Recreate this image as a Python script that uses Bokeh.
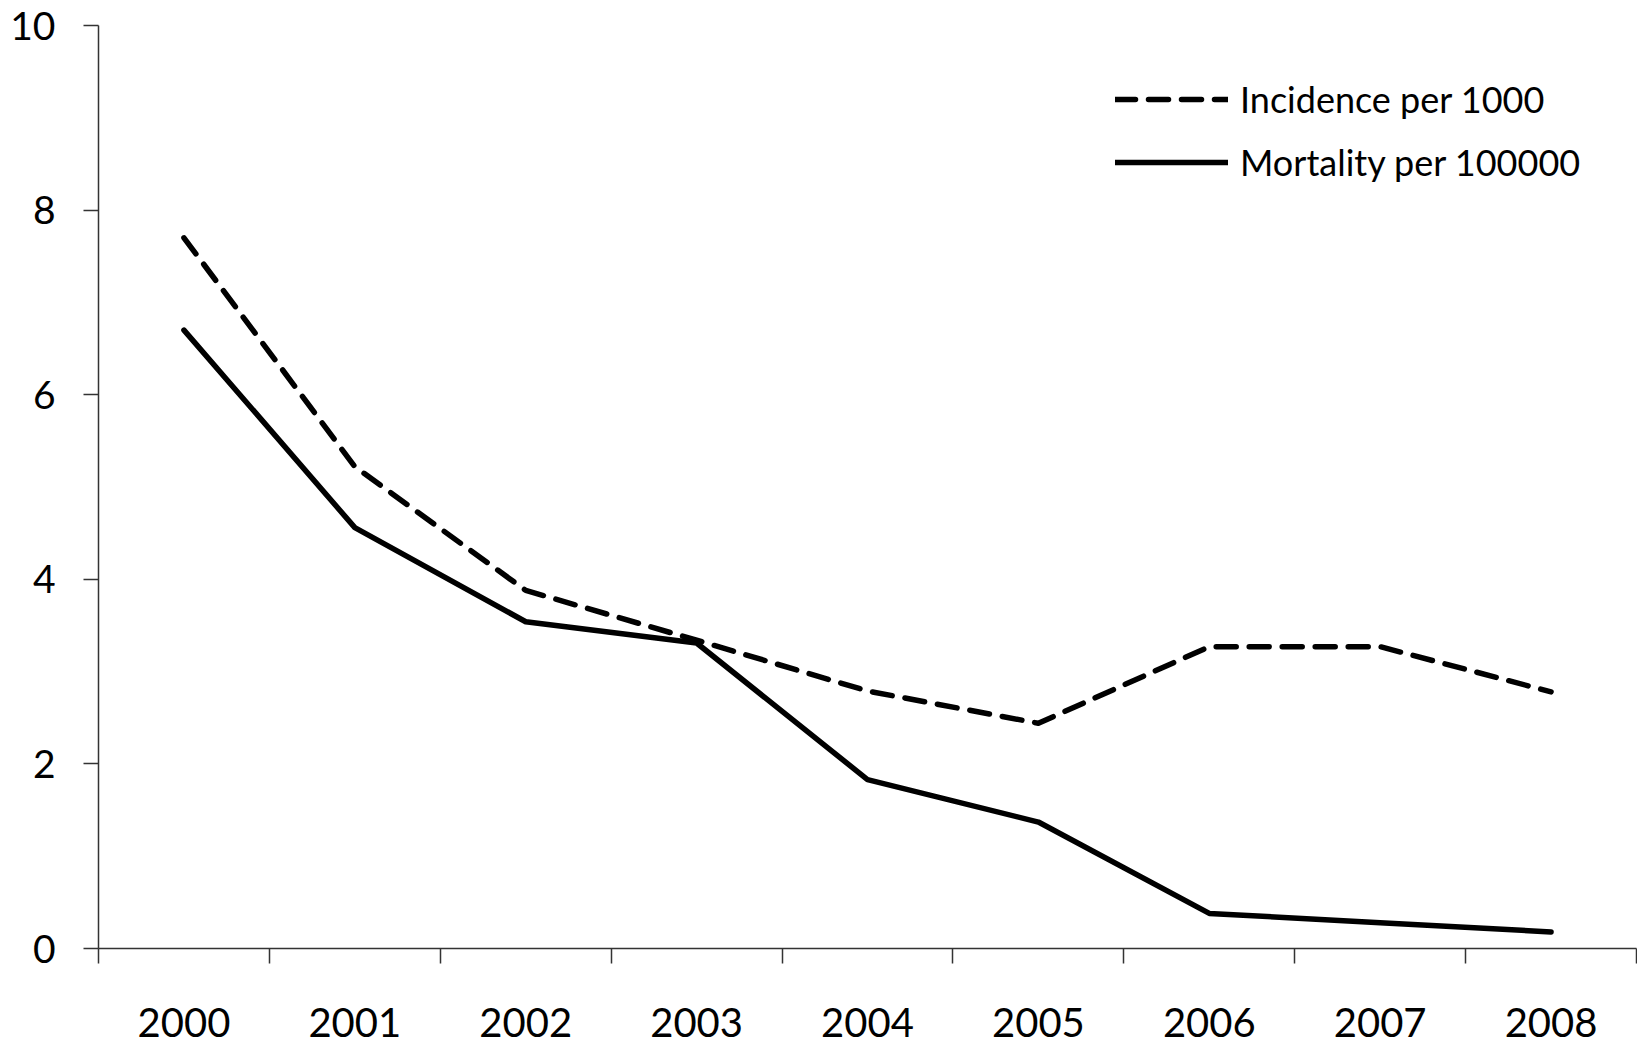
from bokeh.plotting import figure
from bokeh.models import FixedTicker, Legend, LegendItem, Range1d
from bokeh.embed import file_html
from bokeh.resources import INLINE

years = [2000, 2001, 2002, 2003, 2004, 2005, 2006, 2007, 2008]
incidence_per_1000 = [7.70, 5.22, 3.88, 3.34, 2.79, 2.44, 3.27, 3.27, 2.78]
mortality_per_100000 = [6.70, 4.56, 3.54, 3.31, 1.83, 1.37, 0.38, 0.28, 0.18]
y_ticks = [0, 2, 4, 6, 8, 10]

p = figure(width=1637, height=1044, output_backend="svg", toolbar_location=None,
           x_range=Range1d(1999.5, 2008.5), y_range=Range1d(0, 10),
           min_border_left=98, min_border_right=1, min_border_top=25, min_border_bottom=96)
p.outline_line_color = None
p.xgrid.visible = False
p.ygrid.visible = False

r_inc = p.line(years, incidence_per_1000, line_color="black", line_width=5.5,
               line_dash="20 13", line_cap="round", line_join="round")
r_mort = p.line(years, mortality_per_100000, line_color="black", line_width=5.5,
                line_cap="round", line_join="round")

font = "Lato"
axis_color = "#333333"

xa = p.xaxis[0]
xa.ticker = FixedTicker(ticks=years, minor_ticks=[y - 0.5 for y in years] + [years[-1] + 0.5])
xa.major_tick_out = 0
xa.major_tick_in = 0
xa.minor_tick_out = 15
xa.minor_tick_in = 0
xa.minor_tick_line_color = axis_color
xa.minor_tick_line_width = 1.5
xa.axis_line_color = axis_color
xa.axis_line_width = 1.5
xa.major_label_text_font = font
xa.major_label_text_font_size = "40px"
xa.major_label_text_color = "black"
xa.major_label_standoff = 44
xa.major_label_overrides = {y: str(y) for y in years}

ya = p.yaxis[0]
ya.ticker = FixedTicker(ticks=y_ticks, minor_ticks=[])
ya.major_tick_out = 15
ya.major_tick_in = 0
ya.major_tick_line_color = axis_color
ya.major_tick_line_width = 1.5
ya.axis_line_color = axis_color
ya.axis_line_width = 1.5
ya.major_label_text_font = font
ya.major_label_text_font_size = "39px"
ya.major_label_text_color = "black"
ya.major_label_standoff = 28

legend = Legend(items=[LegendItem(label="Incidence per 1000", renderers=[r_inc]),
                       LegendItem(label="Mortality per 100000", renderers=[r_mort])],
                location=(1017, 764), padding=0, margin=0, spacing=19,
                glyph_width=113, glyph_height=40, label_height=40, label_standoff=12,
                label_text_font=font, label_text_font_size="36px", label_text_color="black",
                border_line_alpha=0, background_fill_alpha=0)
p.add_layout(legend, "center")

open("out.html", "w").write(file_html(p, INLINE))
